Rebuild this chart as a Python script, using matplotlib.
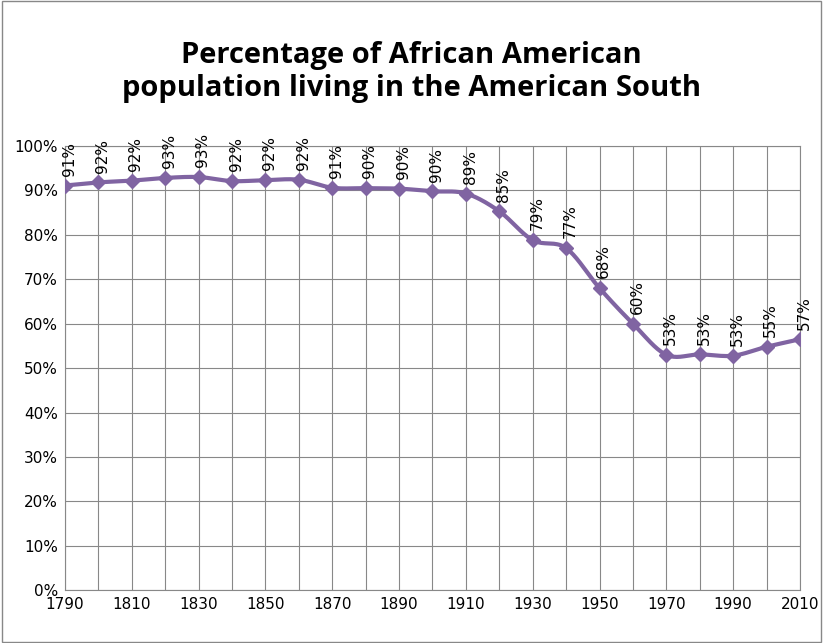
import numpy as np
import matplotlib
matplotlib.use("Agg")
import matplotlib.pyplot as plt

years = list(range(1790, 2011, 10))
values = [91.1, 91.8, 92.2, 92.8, 93.0, 92.1, 92.3, 92.4, 90.6, 90.5, 90.4, 89.8,
          89.3, 85.3, 78.8, 77.0, 68.0, 60.0, 53.0, 53.1, 52.8, 54.8, 56.5]
labels = ["91%", "92%", "92%", "93%", "93%", "92%", "92%", "92%", "91%", "90%", "90%", "90%",
          "89%", "85%", "79%", "77%", "68%", "60%", "53%", "53%", "53%", "55%", "57%"]

PURPLE = "#8064A2"


def smooth(x, y, n=20):
    """Catmull-Rom curve through the points, like Excel's smoothed line."""
    x = np.asarray(x, float)
    y = np.asarray(y, float)
    px = np.concatenate([[2 * x[0] - x[1]], x, [2 * x[-1] - x[-2]]])
    py = np.concatenate([[2 * y[0] - y[1]], y, [2 * y[-1] - y[-2]]])
    t = np.linspace(0, 1, n)
    xs, ys = [], []
    for i in range(1, len(px) - 2):
        for p, out in ((px, xs), (py, ys)):
            p0, p1, p2, p3 = p[i - 1], p[i], p[i + 1], p[i + 2]
            out.extend(0.5 * (2 * p1 + (-p0 + p2) * t + (2 * p0 - 5 * p1 + 4 * p2 - p3) * t ** 2
                              + (-p0 + 3 * p1 - 3 * p2 + p3) * t ** 3))
    return xs, ys


fig = plt.figure(figsize=(8.23, 6.43), dpi=100)
ax = fig.add_axes([0.079, 0.082, 0.893, 0.691])

sx, sy = smooth(years, values)
ax.plot(sx, sy, color=PURPLE, lw=3, zorder=3)
ax.plot(years, values, ls="none", marker="D", ms=7, color=PURPLE, zorder=4)
for x, v, lab in zip(years, values, labels):
    ax.annotate(lab, (x, v), xytext=(3, 7), textcoords="offset points",
                rotation=90, ha="center", va="bottom", fontsize=11, family="DejaVu Sans")

ax.set_xlim(1790, 2010)
ax.set_ylim(0, 100)
ax.set_xticks(years)
ax.set_xticklabels([str(y) if (y - 1790) % 20 == 0 else "" for y in years])
ax.set_yticks(range(0, 101, 10))
ax.set_yticklabels([f"{v}%" for v in range(0, 101, 10)])
ax.tick_params(labelsize=11, length=0, pad=5)
ax.grid(True, color="#888888", lw=0.8)
ax.set_axisbelow(True)
for s in ax.spines.values():
    s.set_color("#888888")

fig.text(0.5, 0.888, "Percentage of African American\npopulation living in the American South",
         ha="center", va="center", fontsize=21, fontweight="bold", family="Open Sans",
         linespacing=1.2)
fig.patches.append(plt.Rectangle((0.002, 0.002), 0.996, 0.996, transform=fig.transFigure,
                                 fill=False, ec="#888888", lw=1))
fig.savefig("out.png", dpi=100)
